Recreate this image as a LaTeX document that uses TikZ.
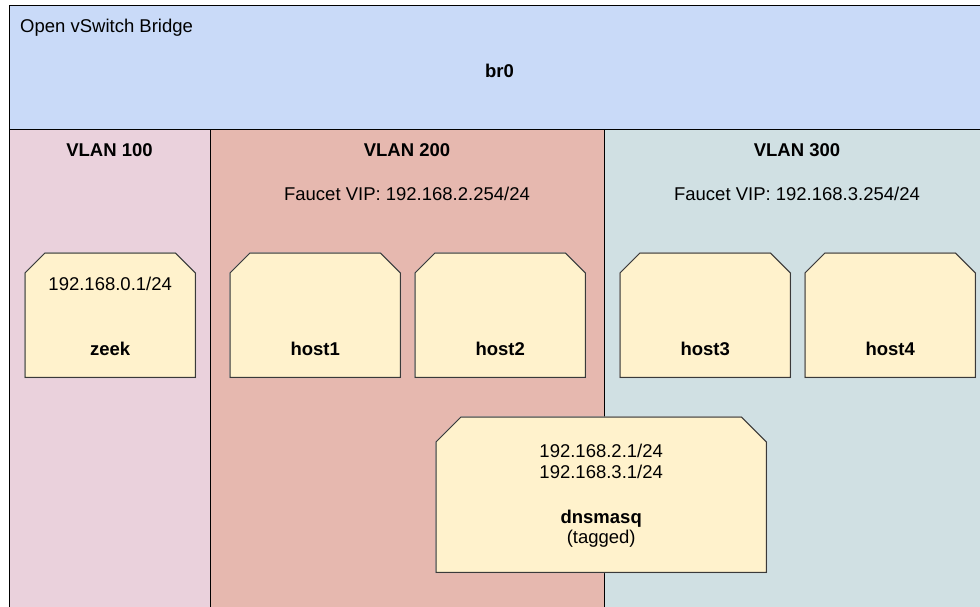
\documentclass[tikz,border=0pt]{standalone}
\usepackage{fontspec}
\setmainfont{Liberation Sans}
\definecolor{brblue}{HTML}{C9DAF8}
\definecolor{vlanpink}{HTML}{EAD1DC}
\definecolor{vlanred}{HTML}{E6B8AF}
\definecolor{vlancyan}{HTML}{D0E0E3}
\definecolor{boxfill}{HTML}{FFF2CC}
\definecolor{boxline}{HTML}{3A3A3A}
\newcommand\chamferbox[2]{%
  \draw[boxshadow,shift={(1.2pt,-1.2pt)}] (#1.south west) -- ([yshift=-#2]#1.north west) -- ([xshift=#2]#1.north west) -- ([xshift=-#2]#1.north east) -- ([yshift=-#2]#1.north east) -- (#1.south east) -- cycle;
  \draw[boxshape] (#1.south west) -- ([yshift=-#2]#1.north west) -- ([xshift=#2]#1.north west) -- ([xshift=-#2]#1.north east) -- ([yshift=-#2]#1.north east) -- (#1.south east) -- cycle;}
\tikzset{
  region/.style={draw=black, line width=1.3pt, anchor=north west, inner sep=0pt},
  hostbox/.style={draw=none, anchor=north west, inner sep=0pt, minimum width=170pt, minimum height=124pt},
  boxshape/.style={draw=boxline, fill=boxfill, line width=1pt, line join=miter},
  boxshadow/.style={draw=black!30, line width=1.2pt},
  txt/.style={anchor=base, inner sep=0pt},
  btxt/.style={anchor=base, inner sep=0pt, font=\fontsize{18.5}{21}\selectfont\bfseries},
}
\begin{document}
\begin{tikzpicture}[x=1pt,y=-1pt,font=\fontsize{18.5}{21}\selectfont]
\useasboundingbox (0,0) rectangle (980,606);
\clip (0,0) rectangle (980,606);
\fill[white] (0,0) rectangle (980,606);
% bridge
\node[region, fill=brblue, minimum width=981pt, minimum height=124pt] (br) at (9,5) {};
\node[txt, anchor=base west] (brtitle) at (20,32) {Open vSwitch Bridge};
\node[btxt] (brname) at (499.5,77) {br0};
% VLAN regions
\node[region, fill=vlanpink, minimum width=201pt, minimum height=500pt] (v100) at (9,129) {};
\node[region, fill=vlanred, minimum width=394pt, minimum height=500pt] (v200) at (210,129) {};
\node[region, fill=vlancyan, minimum width=386pt, minimum height=500pt] (v300) at (604,129) {};
\node[btxt] (v100l) at (109.5,156) {VLAN 100};
\node[btxt] (v200l) at (407,156) {VLAN 200};
\node[btxt] (v300l) at (797,156) {VLAN 300};
\node[txt] (v200vip) at (407,200) {Faucet VIP: 192.168.2.254/24};
\node[txt] (v300vip) at (797,200) {Faucet VIP: 192.168.3.254/24};
% hosts
\node[hostbox] (zeek) at (25,253) {};
\node[hostbox] (h1) at (230,253) {};
\node[hostbox] (h2) at (415,253) {};
\node[hostbox] (h3) at (620,253) {};
\node[hostbox] (h4) at (805,253) {};
\node[hostbox, minimum width=330pt, minimum height=155pt] (dns) at (436,417) {};
\chamferbox{zeek}{20pt}
\chamferbox{h1}{20pt}
\chamferbox{h2}{20pt}
\chamferbox{h3}{20pt}
\chamferbox{h4}{20pt}
\chamferbox{dns}{25pt}
\node[txt] (zeekip) at (zeek.center |- 0,290) {192.168.0.1/24};
\node[btxt] (zeekn) at (zeek.center |- 0,355) {zeek};
\node[btxt] (h1n) at (h1.center |- 0,355) {host1};
\node[btxt] (h2n) at (h2.center |- 0,355) {host2};
\node[btxt] (h3n) at (h3.center |- 0,355) {host3};
\node[btxt] (h4n) at (h4.center |- 0,355) {host4};
\node[txt] (dnsip1) at (dns.center |- 0,457) {192.168.2.1/24};
\node[txt] (dnsip2) at (dns.center |- 0,478) {192.168.3.1/24};
\node[btxt] (dnsn) at (dns.center |- 0,523.5) {dnsmasq};
\node[txt] (dnst) at (dns.center |- 0,543.5) {(tagged)};
\end{tikzpicture}
\end{document}
